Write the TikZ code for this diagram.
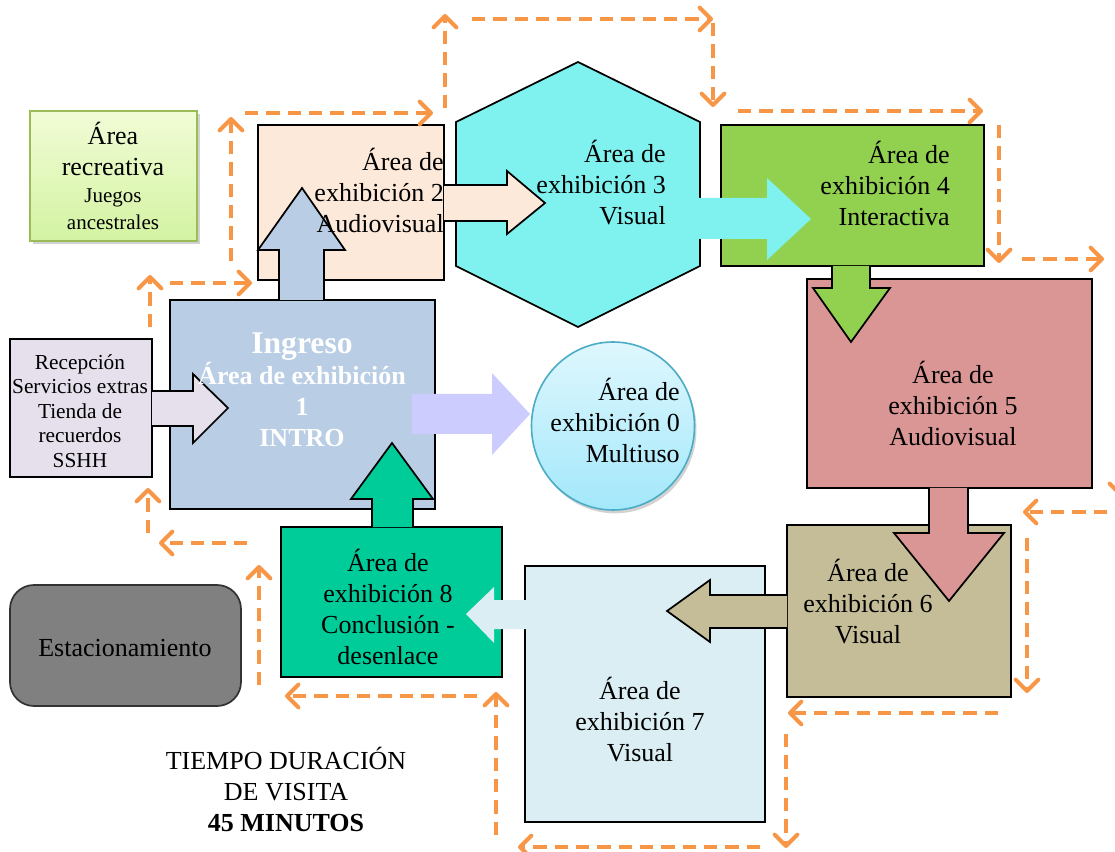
\documentclass[tikz,border=0pt]{standalone}
\usepackage{fontspec}
\setmainfont{Liberation Serif}
\usetikzlibrary{arrows.meta,fit,shapes.geometric,shadows}
\definecolor{peach}{HTML}{FDE9D9}
\definecolor{cyanh}{HTML}{7FF1EE}
\definecolor{greenb}{HTML}{92D050}
\definecolor{roseb}{HTML}{D99694}
\definecolor{tanb}{HTML}{C4BD97}
\definecolor{lblue}{HTML}{DAEEF3}
\definecolor{tealb}{HTML}{00CC99}
\definecolor{ingb}{HTML}{B9CDE5}
\definecolor{recb}{HTML}{E5E0EC}
\definecolor{lavb}{HTML}{CCCCFF}
\definecolor{orangel}{HTML}{F79646}
\definecolor{olive}{HTML}{9BBB59}
\definecolor{circb}{HTML}{4BACC6}
\definecolor{rectop}{HTML}{F1FCD6}
\definecolor{recbot}{HTML}{D3F3A2}
\definecolor{ctop}{HTML}{DFF7FD}
\definecolor{cbot}{HTML}{A3E8FB}
\newcommand\barrowO[2]{\fill[#1] #2 -- cycle; \draw[outl] #2;}
\newcommand\barrowN[2]{\fill[#1] #2 -- cycle;}
\begin{document}
\begin{tikzpicture}[x=0.75pt,y=-0.75pt,
  box/.style={draw=black, line width=1.3pt, inner sep=0pt},
  outl/.style={draw=black, line width=1.3pt, line join=miter},
  txt/.style={inner sep=0pt, font=\fontsize{19.5}{23.25}\selectfont},
  dasharrow/.style={draw=orangel, line width=3pt, dash pattern=on 10pt off 6pt,
     -{Straight Barb[length=8.5pt,width=17pt,round]}}]
\useasboundingbox (0,0) rectangle (1115,852);
\clip (0,0) rectangle (1115,852);
\fill[white] (0,0) rectangle (1115,852);
% boxes
\node[box, draw=olive, top color=rectop, bottom color=recbot,
  drop shadow={shadow xshift=2pt, shadow yshift=-2pt, opacity=0.35}, fit={(30,111)(197,241)}] (rec) {};
\node[box, fill=peach, fit={(258,125)(444,280)}] (b2) {};
\draw[outl, fill=cyanh] (578,62) -- (700,122) -- (700,266) -- (578,327) -- (456,266) -- (456,122) -- cycle;
\coordinate (h3) at (578,195);
\node[box, fill=greenb, fit={(721,125)(984,266)}] (b4) {};
\node[box, fill=roseb, fit={(807,279)(1092,488)}] (b5) {};
\node[box, fill=tanb, fit={(787,525)(1011,697)}] (b6) {};
\node[box, fill=lblue, fit={(525,566)(765,822)}] (b7) {};
\node[box, fill=tealb, fit={(281,527)(502,677)}] (b8) {};
\node[box, fill=ingb, fit={(170,300)(435,509)}] (ing) {};
\node[box, fill=recb, fit={(10,339)(152,477)}] (recp) {};
\node[box, draw=black!80, fill=black!50, rounded corners=18pt, fit={(10,585)(241,706)}] (est) {};
% block arrows
\barrowO{ingb}{(279,300) -- (279,250) -- (258,250) -- (302,188) -- (345,250) -- (324,250) -- (324,300)}
\barrowO{peach}{(444,185) -- (507,185) -- (507,171) -- (545,203) -- (507,234) -- (507,221) -- (444,221)}
\barrowN{cyanh}{(699,198) -- (767,198) -- (767,178) -- (811,219) -- (767,260) -- (767,239) -- (699,239)}
\barrowO{greenb}{(832,266) -- (832,288) -- (813,288) -- (851,342) -- (890,288) -- (870,288) -- (870,266)}
\barrowO{roseb}{(929,488) -- (929,533) -- (894,533) -- (949,601) -- (1004,533) -- (968,533) -- (968,488)}
\barrowO{tanb}{(787,595) -- (710,595) -- (710,580) -- (667,611) -- (710,642) -- (710,628) -- (787,628)}
\barrowN{lblue}{(528,600) -- (494,600) -- (494,587) -- (466,614) -- (494,643) -- (494,629) -- (528,629)}
\barrowO{tealb}{(372,527) -- (372,499) -- (351,499) -- (392,443) -- (433,499) -- (413,499) -- (413,527)}
\barrowO{recb}{(152,391) -- (193,391) -- (193,374) -- (228,408) -- (193,443) -- (193,426) -- (152,426)}
\barrowN{lavb}{(412,394) -- (492,394) -- (492,373) -- (530,414) -- (492,455) -- (492,434) -- (412,434)}
\node[ellipse, draw=circb, line width=1.2pt, top color=ctop, bottom color=cbot,
  drop shadow={shadow xshift=1.5pt, shadow yshift=-2.5pt, opacity=0.35},
  minimum width=163*0.75pt, minimum height=168*0.75pt, inner sep=0pt] (c0) at (613,426) {};
% texts
\node[txt, align=center] (trec) at (113,176) {Área\\recreativa\\[-3pt]{\fontsize{15.75}{18}\selectfont Juegos}\\[-3pt]{\fontsize{15.75}{18}\selectfont ancestrales}};
\node[txt, align=right, anchor=east] (t2) at (444,190) {Área de\\exhibición 2\\Audiovisual};
\node[txt, align=right, anchor=east] (t3) at (666,183) {Área de\\exhibición 3\\Visual};
\node[txt, align=right, anchor=east] (t4) at (950,183) {Área de\\exhibición 4\\Interactiva};
\node[txt, align=center] (t5) at (953,403) {Área de\\exhibición 5\\Audiovisual};
\node[txt, align=center] (t6) at (868,602) {Área de\\exhibición 6\\Visual};
\node[txt, align=center] (t7) at (640,720) {Área de\\exhibición 7\\Visual};
\node[txt, align=center] (t8) at (388,607) {Área de\\exhibición 8\\Conclusión -\\desenlace};
\node[txt, align=right, anchor=east] (t0) at (680,420) {Área de\\exhibición 0\\Multiuso};
\node[txt, align=center, text=white, font=\bfseries\fontsize{19.5}{23.25}\selectfont] (t1) at (302,390)
  {{\fontsize{23.7}{25}\selectfont Ingreso}\\Área de exhibición\\1\\INTRO};
\node[txt, align=center, font=\fontsize{16}{18.4}\selectfont] (tr) at (80,411) {Recepción\\Servicios extras\\Tienda de\\recuerdos\\SSHH};
\node[txt] (test) at (125,648) {Estacionamiento};
\node[txt, align=center] (ttime) at (286,789) {TIEMPO DURACIÓN\\DE VISITA\\\textbf{45 MINUTOS}};
% dashed route arrows
\draw[dasharrow] (150,327) -- (150,275);
\draw[dasharrow] (170,283) -- (252,283);
\draw[dasharrow] (231,261) -- (231,117);
\draw[dasharrow] (245,113) -- (433,113);
\draw[dasharrow] (445,108) -- (445,14);
\draw[dasharrow] (472,19) -- (713,19);
\draw[dasharrow] (713,23) -- (713,107);
\draw[dasharrow] (738,111) -- (983,111);
\draw[dasharrow] (999,125) -- (999,263);
\draw[dasharrow] (1022,259) -- (1104,259);
\draw[dasharrow] (1121,400) -- (1121,497);
\draw[dasharrow] (1107,512) -- (1023,512);
\draw[dasharrow] (1027,538) -- (1027,693);
\draw[dasharrow] (998,713) -- (788,713);
\draw[dasharrow] (786,734) -- (786,848);
\draw[dasharrow] (760,847) -- (518,847);
\draw[dasharrow] (496,835) -- (496,692);
\draw[dasharrow] (477,696) -- (285,696);
\draw[dasharrow] (259,685) -- (259,565);
\draw[dasharrow] (247,543) -- (159,543);
\draw[dasharrow] (148,533) -- (148,488);
\end{tikzpicture}
\end{document}
